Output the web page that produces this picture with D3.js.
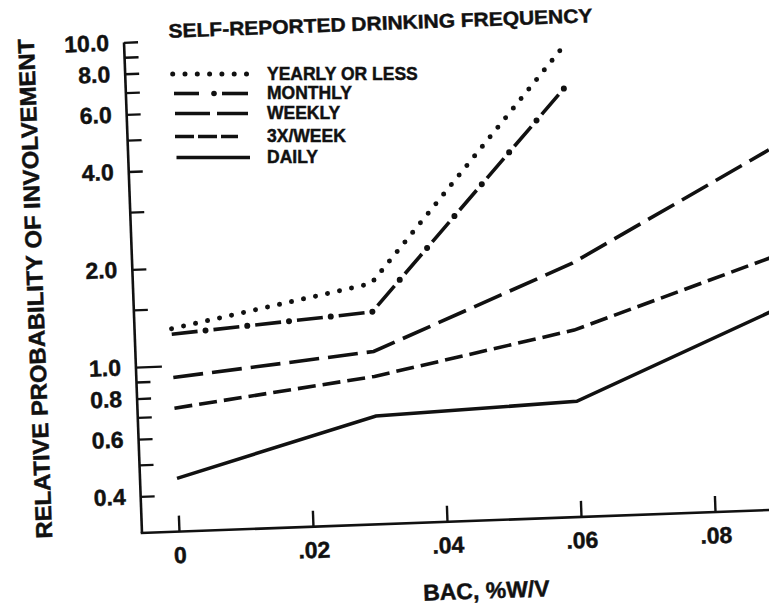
<!DOCTYPE html>
<html>
<head>
<meta charset="utf-8">
<script src="https://cdn.jsdelivr.net/npm/d3@7"></script>
<style>
  html, body { margin: 0; padding: 0; background: #fff; }
  text { font-family: "Liberation Sans", Arial, sans-serif; font-weight: bold; fill: #111; stroke: #111; stroke-width: 0.45px; }
</style>
</head>
<body>
<div id="chart"></div>
<script>
"use strict";

// BAC values (%W/V) at which the curves were plotted
const bac = [0, 0.03, 0.06, 0.09];

// Relative probability of involvement, one list per drinking frequency
const yearlyOrLess = [1.3, 1.7, 8.7];
const monthly = [1.25, 1.39, 6.5];
const weekly = [0.92, 1.05, 1.86, 3.95];
const threePerWeek = [0.74, 0.88, 1.16, 1.85];
const daily = [0.45, 0.665, 0.70, 1.27];

const seriesNames = ["YEARLY OR LESS", "MONTHLY", "WEEKLY", "3X/WEEK", "DAILY"];

const xTicks = [0, 0.02, 0.04, 0.06, 0.08];
const yTicks = [0.4, 0.5, 0.6, 0.7, 0.8, 0.9, 1, 1.5, 2, 3, 4, 5, 6, 7, 8, 9, 10];
const yLabels = [0.4, 0.6, 0.8, 1, 2, 4, 6, 8, 10];

const width = 769, height = 611;
const ink = "#111";

function create(container) {
  container.innerHTML = "";
  let svg = d3.select(container).append("svg")
    .attr("width", width)
    .attr("height", height);
  svg.append("rect")
    .attr("width", width)
    .attr("height", height)
    .attr("fill", "#fff");
  return svg;
}

function draw(svg) {
  // corner of the axes; the scanned figure is tilted about 2 degrees
  let cx = 142, cy = 533;
  let g = svg.append("g")
    .attr("transform", "rotate(-2.1," + cx + "," + cy + ")");

  let x = d3.scaleLinear().domain([0, 0.08]).range([179, 715.4]);
  let y = d3.scaleLog().domain([1, 10]).range([367, 42]);

  // Axis lines
  g.append("line")
   .attr("x1", cx).attr("y1", cy)
   .attr("x2", cx).attr("y2", y(10))
   .attr("stroke", ink).attr("stroke-width", 2.6);
  g.append("line")
   .attr("x1", cx - 1.3).attr("y1", cy)
   .attr("x2", x(0.1)).attr("y2", cy)
   .attr("stroke", ink).attr("stroke-width", 2.6);

  // Y axis (ticks pointing into the plot)
  let yAxis = d3.axisLeft(y)
    .tickValues(yTicks)
    .tickSizeInner(-14)
    .tickSizeOuter(0)
    .tickPadding(15)
    .tickFormat(d => yLabels.includes(d) ? d3.format(".1f")(d) : "");
  let ya = g.append("g")
    .attr("transform", "translate(" + cx + ",0)")
    .call(yAxis);
  ya.select(".domain").remove();
  ya.selectAll(".tick line")
    .attr("stroke", ink)
    .attr("stroke-width", 2.4)
    .attr("x2", d => d === 1 ? 26 : 14);
  ya.selectAll(".tick text")
    .attr("font-size", "23px")
    .attr("font-family", null)
    .attr("fill", ink);

  // X axis (ticks pointing up)
  let xAxis = d3.axisBottom(x)
    .tickValues(xTicks)
    .tickSizeInner(-16)
    .tickSizeOuter(0)
    .tickPadding(15)
    .tickFormat(d => d === 0 ? "0" : d3.format(".2f")(d).slice(1));
  let xa = g.append("g")
    .attr("transform", "translate(0," + cy + ")")
    .call(xAxis);
  xa.select(".domain").remove();
  xa.selectAll(".tick line")
    .attr("stroke", ink)
    .attr("stroke-width", 2.4);
  xa.selectAll(".tick text")
    .attr("font-size", "23px")
    .attr("font-family", null)
    .attr("fill", ink);

  // Axis titles
  g.append("text")
   .attr("transform", "translate(52,285) rotate(-90)")
   .attr("text-anchor", "middle")
   .attr("font-size", "23px")
   .attr("textLength", 500)
   .attr("lengthAdjust", "spacingAndGlyphs")
   .text("RELATIVE PROBABILITY OF INVOLVEMENT");
  g.append("text")
   .attr("x", 484)
   .attr("y", 611)
   .attr("text-anchor", "middle")
   .attr("font-size", "23px")
   .text("BAC, %W/V");

  // Legend title
  g.append("text")
   .attr("x", 187)
   .attr("y", 39)
   .attr("font-size", "19.5px")
   .attr("textLength", 424)
   .attr("lengthAdjust", "spacingAndGlyphs")
   .text("SELF-REPORTED DRINKING FREQUENCY");

  // Curves
  let line = d3.line()
    .x((d, i) => x(bac[i]))
    .y(d => y(d));

  let plot = g.append("g").attr("fill", "none").attr("stroke", ink);

  plot.append("path")
   .attr("d", line(yearlyOrLess))
   .attr("stroke-width", 5)
   .attr("stroke-linecap", "round")
   .attr("stroke-dasharray", "0 12.3");

  plot.append("path")
   .attr("d", line(monthly))
   .attr("stroke-width", 3.6)
   .attr("stroke-dasharray", "26 16");
  plot.append("path")
   .attr("d", line(monthly))
   .attr("stroke-width", 6)
   .attr("stroke-linecap", "round")
   .attr("stroke-dasharray", "0 42")
   .attr("stroke-dashoffset", 8);

  plot.append("path")
   .attr("d", line(weekly))
   .attr("stroke-width", 3.6)
   .attr("stroke-dasharray", "30 9");

  plot.append("path")
   .attr("d", line(threePerWeek))
   .attr("stroke-width", 3.6)
   .attr("stroke-dasharray", "18 7");

  plot.append("path")
   .attr("d", line(daily))
   .attr("stroke-width", 3.6);

  // Legend (sits level on the page)
  let lg = svg.append("g");
  let rowY = [74, 93.5, 113.5, 136.5, 157.5];
  let styles = [
    {w: 5, dash: "0 12.3", cap: "round", x1: 172.7, x2: 247.5},
    {w: 3.6, dash: "25 50", cap: "butt", x1: 174, x2: 248},
    {w: 3.6, dash: "35 7", cap: "butt", x1: 175, x2: 248},
    {w: 3.6, dash: "19 4", cap: "butt", x1: 175, x2: 238},
    {w: 3.6, dash: null, cap: "butt", x1: 176.5, x2: 250}
  ];
  seriesNames.forEach(function(name, i) {
    let s = styles[i];
    lg.append("line")
     .attr("x1", s.x1).attr("x2", s.x2)
     .attr("y1", rowY[i]).attr("y2", rowY[i])
     .attr("stroke", ink)
     .attr("stroke-width", s.w)
     .attr("stroke-linecap", s.cap)
     .attr("stroke-dasharray", s.dash);
    if (i === 1) {
      // second dash and the dot of the dash-dot sample
      lg.append("line")
       .attr("x1", 222).attr("x2", 248)
       .attr("y1", rowY[i]).attr("y2", rowY[i])
       .attr("stroke", ink).attr("stroke-width", 3.6);
      lg.append("circle")
       .attr("cx", 214).attr("cy", rowY[i]).attr("r", 2.8)
       .attr("fill", ink);
    }
    lg.append("text")
     .attr("x", 267)
     .attr("y", rowY[i] + 5.5)
     .attr("font-size", "17.5px")
     .text(name);
  });
}

let svg = create(document.getElementById("chart"));
draw(svg);
</script>
</body>
</html>
